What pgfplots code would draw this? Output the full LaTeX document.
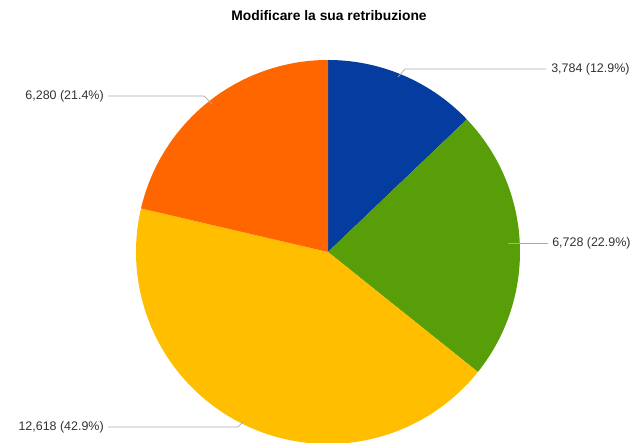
\documentclass[border=0pt]{standalone}
\usepackage{pgfplots}
\pgfplotsset{compat=1.18}
\usepackage{fontspec}
\setmainfont{Liberation Sans}
\definecolor{cblue}{RGB}{5,60,160}
\definecolor{cgreen}{RGB}{88,158,8}
\definecolor{cyellow}{RGB}{255,190,0}
\definecolor{corange}{RGB}{255,102,0}
\definecolor{ctext}{RGB}{50,50,50}
\definecolor{cline}{RGB}{170,170,170}
\begin{document}
\begin{tikzpicture}
% values (in thousands)
\pgfmathsetmacro{\vA}{3.784}
\pgfmathsetmacro{\vB}{6.728}
\pgfmathsetmacro{\vC}{12.618}
\pgfmathsetmacro{\vD}{6.280}
\pgfmathsetmacro{\tot}{\vA+\vB+\vC+\vD}
\pgfmathsetmacro{\aA}{90}
\pgfmathsetmacro{\aB}{\aA-360*\vA/\tot}
\pgfmathsetmacro{\aC}{\aB-360*\vB/\tot}
\pgfmathsetmacro{\aD}{\aC-360*\vC/\tot}
\pgfmathsetmacro{\aE}{-270}
\begin{axis}[width=16cm,height=11.25cm,scale only axis,
  xmin=0,xmax=630,ymin=0,ymax=443,hide axis,clip=true]
\addplot[fill=cblue,draw=none,domain=\aB:\aA,samples=80,variable=\t]
  ({328+192*cos(\t)},{191+192*sin(\t)}) -- (axis cs:328,191) -- cycle;
\addplot[fill=cgreen,draw=none,domain=\aC:\aB,samples=80,variable=\t]
  ({328+192*cos(\t)},{191+192*sin(\t)}) -- (axis cs:328,191) -- cycle;
\addplot[fill=cyellow,draw=none,domain=\aD:\aC,samples=120,variable=\t]
  ({328+192*cos(\t)},{191+192*sin(\t)}) -- (axis cs:328,191) -- cycle;
\addplot[fill=corange,draw=none,domain=\aE:\aD,samples=80,variable=\t]
  ({328+192*cos(\t)},{191+192*sin(\t)}) -- (axis cs:328,191) -- cycle;
% leader lines
\addplot[cline,line width=0.5pt] coordinates {(398,366) (405,374) (546,374)};
\addplot[cline,line width=0.5pt] coordinates {(508,200) (548,200)};
\addplot[cline,line width=0.5pt] coordinates {(108,347) (204,347) (212,339)};
\addplot[cline,line width=0.5pt] coordinates {(108,16) (238,16) (244,22)};
% labels
\node[anchor=west,text=ctext,font=\fontsize{9}{11}\selectfont,inner sep=0pt] at (axis cs:551,374) {3,784 (12.9\%)};
\node[anchor=west,text=ctext,font=\fontsize{9}{11}\selectfont,inner sep=0pt] at (axis cs:552,200) {6,728 (22.9\%)};
\node[anchor=east,text=ctext,font=\fontsize{9}{11}\selectfont,inner sep=0pt] at (axis cs:104,347) {6,280 (21.4\%)};
\node[anchor=east,text=ctext,font=\fontsize{9}{11}\selectfont,inner sep=0pt] at (axis cs:104,16) {12,618 (42.9\%)};
\node[text=black,font=\bfseries\fontsize{10}{12}\selectfont,inner sep=0pt] at (axis cs:329,427) {Modificare la sua retribuzione};
\end{axis}
\pgfresetboundingbox
\path (0,0) rectangle (16cm,11.25cm);
\end{tikzpicture}
\end{document}
